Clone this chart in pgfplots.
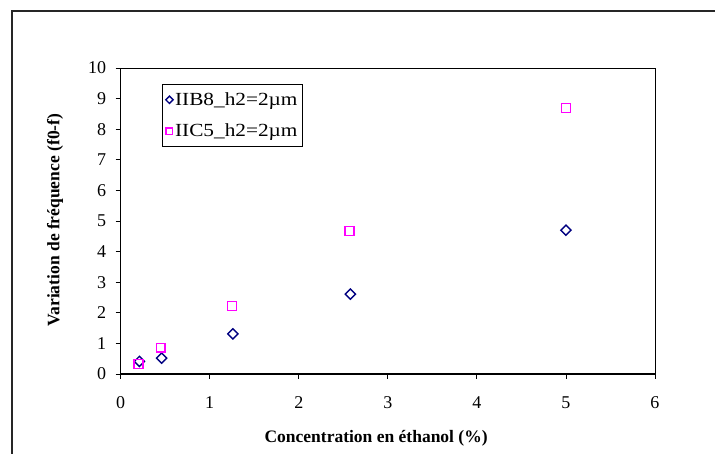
\documentclass[border=0pt]{standalone}
\usepackage{fontspec}
\setmainfont{Liberation Serif}
\newfontfamily\legfont[FakeStretch=1.15]{Liberation Serif}
\usepackage{pgfplots}
\pgfplotsset{compat=1.18}
\definecolor{navyc}{RGB}{0,0,128}
\definecolor{magc}{RGB}{255,0,255}
\begin{document}
\begin{tikzpicture}
\useasboundingbox (0,0) rectangle (715pt,454pt);
\draw[line width=1.6pt, black!85] (12pt,0) -- (12pt,443pt) -- (715pt,443pt);
\begin{axis}[
  at={(120.7pt,80pt)}, anchor=south west,
  scale only axis, width=534.3pt, height=306pt,
  xmin=0, xmax=6, ymin=0, ymax=10,
  xtick={0,1,2,3,4,5,6}, ytick={0,1,2,3,4,5,6,7,8,9,10},
  tick align=outside, tick pos=left, major tick length=5pt,
  axis line style={line width=0.8pt},
  every tick/.style={black, line width=0.8pt},
  tick label style={font=\fontsize{18}{20}\selectfont},
  /pgf/number format/assume math mode=true,
  xticklabel style={yshift=-14pt},
  yticklabel style={xshift=-6pt},
  xlabel={\textbf{Concentration en éthanol (\%)}},
  ylabel={\textbf{Variation de fréquence (f0-f)}},
  label style={font=\fontsize{17.5}{20}\selectfont},
  xlabel style={at={(axis description cs:0.478,-0.209)}, anchor=center},
  ylabel style={at={(axis description cs:-0.123,0.503)}, anchor=center},
  legend style={at={(axis description cs:0.078,0.947)}, anchor=north west,
    draw=black, line width=0.8pt, font=\legfont\fontsize{18.5}{22}\selectfont,
    inner xsep=3pt, inner ysep=6pt, row sep=13pt},
  legend cell align=left,
  clip=false,
]
\addplot[only marks, mark=square, mark size=3.6pt, mark options={rotate=45, draw=navyc, line width=1.4pt},
  legend image post style={mark size=2.6pt}]
  coordinates {(0.21,0.41) (0.46,0.52) (1.26,1.31) (2.58,2.61) (5.0,4.70)};
\addlegendentry{IIB8\_h2=2µm}
\addplot[only marks, mark=square, mark size=4.4pt, mark options={draw=magc, line width=1.4pt},
  legend image post style={mark size=3.3pt}]
  coordinates {(0.20,0.33) (0.45,0.86) (1.25,2.22) (2.57,4.67) (5.0,8.69)};
\addlegendentry{IIC5\_h2=2µm}
\draw[line width=2pt, black] (axis cs:0,0) -- (axis cs:6,0);
\end{axis}
\end{tikzpicture}
\end{document}
